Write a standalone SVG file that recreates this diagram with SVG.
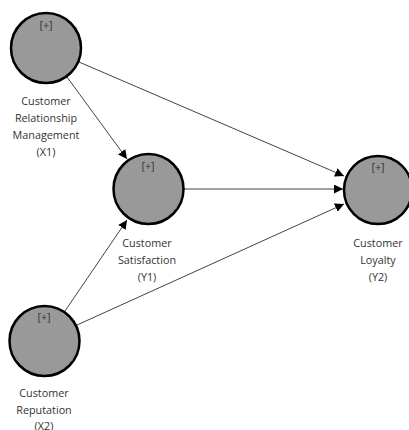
<svg xmlns="http://www.w3.org/2000/svg" width="409" height="430" viewBox="0 0 409 430">
<style>
.node circle{fill:#999999;stroke:#000;stroke-width:2.5}
text{font-family:"Open Sans","Noto Sans","DejaVu Sans",sans-serif;font-size:10.8px;fill:#333;text-anchor:middle}
.edge{stroke:#444;stroke-width:1;fill:none;marker-end:url(#arr)}
</style>
<defs>
<marker id="arr" viewBox="0 0 10 10" refX="10" refY="5" markerWidth="9" markerHeight="9" markerUnits="userSpaceOnUse" orient="auto">
<path d="M0,0 L10,5 L0,10 z" fill="#000"/>
</marker>
</defs>
<rect width="409" height="430" fill="#fff"/>
<g id="connectors">
<line class="edge" x1="67" y1="77" x2="127" y2="159"/>
<line class="edge" x1="79" y1="62" x2="344" y2="176"/>
<line class="edge" x1="184" y1="189" x2="343" y2="189"/>
<line class="edge" x1="65" y1="311" x2="127" y2="220"/>
<line class="edge" x1="77" y1="325" x2="344" y2="204"/>
</g>
<g id="X1" class="node">
<circle cx="46" cy="48" r="35"/>
<text x="46" y="29">[+]</text>
<text x="46" y="105">Customer</text>
<text x="46" y="122">Relationship</text>
<text x="46" y="139">Management</text>
<text x="46" y="156">(X1)</text>
</g>
<g id="Y1" class="node">
<circle cx="148.5" cy="189" r="35"/>
<text x="148" y="170">[+]</text>
<text x="147" y="247">Customer</text>
<text x="147" y="264">Satisfaction</text>
<text x="147" y="281">(Y1)</text>
</g>
<g id="Y2" class="node">
<circle cx="378" cy="190" r="34"/>
<text x="378" y="171">[+]</text>
<text x="378" y="247">Customer</text>
<text x="378" y="264">Loyalty</text>
<text x="378" y="281">(Y2)</text>
</g>
<g id="X2" class="node">
<circle cx="44.5" cy="341" r="35"/>
<text x="44" y="321">[+]</text>
<text x="44" y="397">Customer</text>
<text x="44" y="414">Reputation</text>
<text x="44" y="430">(X2)</text>
</g>
</svg>
